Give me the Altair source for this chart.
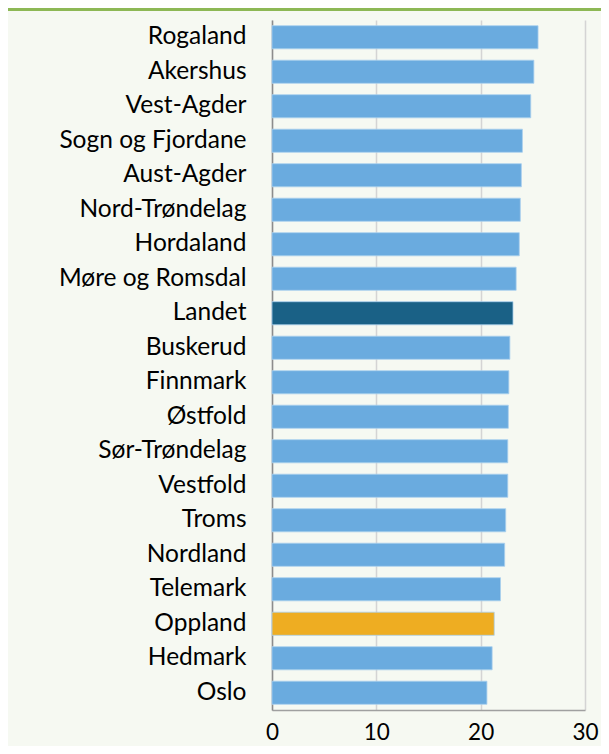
import altair as alt
import pandas as pd

regions = ["Rogaland", "Akershus", "Vest-Agder", "Sogn og Fjordane", "Aust-Agder",
           "Nord-Trøndelag", "Hordaland", "Møre og Romsdal", "Landet", "Buskerud",
           "Finnmark", "Østfold", "Sør-Trøndelag", "Vestfold", "Troms", "Nordland",
           "Telemark", "Oppland", "Hedmark", "Oslo"]
values = [25.5, 25.1, 24.8, 24.0, 23.9, 23.8, 23.7, 23.4, 23.1, 22.8,
          22.7, 22.65, 22.6, 22.6, 22.4, 22.3, 21.9, 21.3, 21.1, 20.6]
groups = ["fylke"] * 8 + ["landet"] + ["fylke"] * 8 + ["oppland"] + ["fylke"] * 2
x_ticks = [0, 10, 20, 30]

group_domain = ["fylke", "landet", "oppland"]
group_colors = ["#6aabdf", "#1a6186", "#eead22"]

df = pd.DataFrame({"region": regions, "value": values, "group": groups})

W, H = 313, 690
PAD = {"left": 264, "top": 12, "right": 16, "bottom": 36}

bars = alt.Chart(df).mark_bar(stroke="#a9cfee", strokeWidth=0.8).encode(
    y=alt.Y("region:N", sort=regions, title=None,
            scale=alt.Scale(paddingInner=0.33, paddingOuter=0.165),
            axis=alt.Axis(labelFontSize=24.5, labelFont="Lato", labelColor="#000000",
                          labelPadding=26, labelLimit=400, ticks=False, domain=True,
                          domainColor="#8c8c8c", domainWidth=1.5, grid=False)),
    x=alt.X("value:Q", title=None,
            scale=alt.Scale(domain=[0, 30], nice=False),
            axis=alt.Axis(values=x_ticks, labelFontSize=22.5, labelFont="Lato",
                          labelColor="#000000", labelPadding=11, labelFlush=False,
                          ticks=False, domainColor="#a0a0a0", domainWidth=1.5,
                          grid=True, gridColor="#d4d4d4", gridWidth=1.5)),
    color=alt.Color("group:N", scale=alt.Scale(domain=group_domain, range=group_colors),
                    legend=None),
)

top_line = alt.Chart(df).mark_rule(color="#8db855", strokeWidth=3).encode(
    x=alt.value(-PAD["left"]), x2=alt.value(W + PAD["right"]), y=alt.value(-PAD["top"] + 1.5)
)

chart = alt.layer(bars, top_line).properties(
    width=W, height=H,
    autosize=alt.AutoSizeParams(type="none"),
    padding=PAD,
    background="#f6f9f2",
).configure_view(stroke=None)

chart.save("out.html", embed_options={"renderer": "svg", "actions": False})
